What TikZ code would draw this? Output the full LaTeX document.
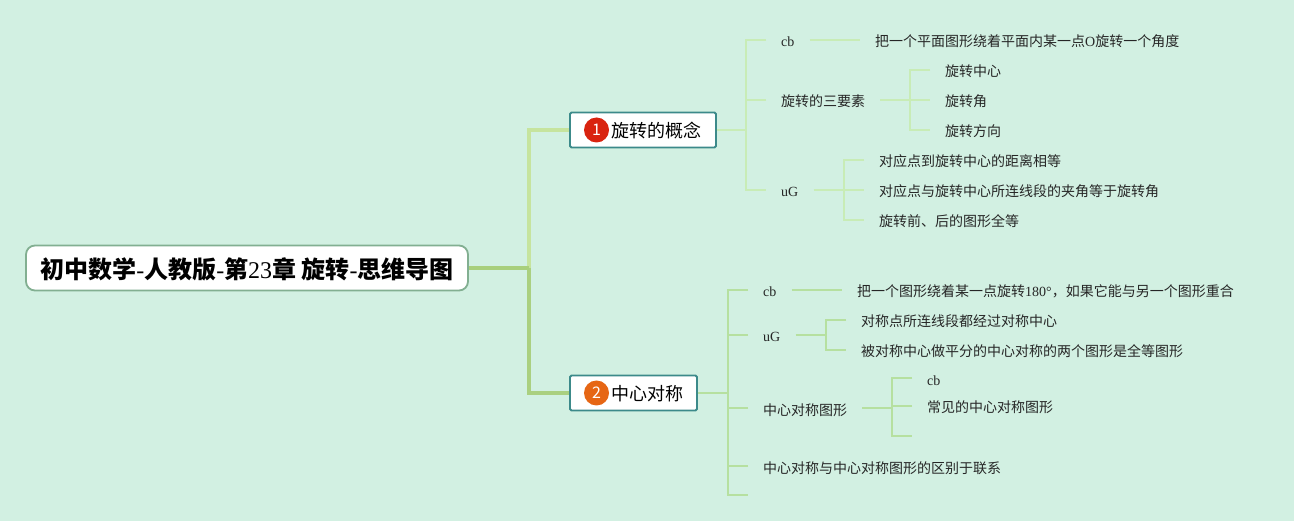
\documentclass[tikz,border=0pt]{standalone}
\usepackage{fontspec}
\usepackage{tikz}
\usetikzlibrary{calc}
\setmainfont{Liberation Serif}
\newfontfamily\cjk{Noto Sans CJK SC}
\definecolor{mapbg}{RGB}{210,240,226}
\definecolor{rootedge}{RGB}{130,175,145}
\definecolor{topicedge}{RGB}{60,138,138}
\definecolor{stemroot}{RGB}{168,207,124}
\definecolor{stemupper}{RGB}{198,228,158}
\definecolor{stemlower}{RGB}{170,208,128}
\definecolor{twigupper}{RGB}{200,236,182}
\definecolor{twiglower}{RGB}{182,224,160}
\definecolor{badgered}{RGB}{217,35,15}
\definecolor{badgeorange}{RGB}{230,102,20}
\tikzset{
  rootbox/.style={draw=rootedge, line width=1.8pt, fill=white, rounded corners=9pt, minimum width=442pt, minimum height=45pt, inner sep=0pt, text height=23pt, text depth=1pt, font=\cjk\bfseries\fontsize{24}{24}\selectfont},
  topicbox/.style={draw=topicedge, line width=1.8pt, fill=white, rounded corners=1.5pt, minimum height=35pt, inner sep=0pt},
  topiclabel/.style={anchor=west, inner sep=0pt, font=\cjk\fontsize{18}{18}\selectfont},
  badge/.style={circle, minimum size=25pt, inner sep=0pt, text=white, font=\cjk\fontsize{16}{16}\selectfont},
  leaf/.style={anchor=west, inner xsep=15pt, inner ysep=0pt, text=black!85, text height=15pt, text depth=1pt, font=\cjk\fontsize{14}{14}\selectfont},
  twig/.style={line width=1.5pt},
}
\newcommand{\lat}[1]{{\rmfamily\mdseries #1}}
\begin{document}
\begin{tikzpicture}[x=1pt,y=-1pt]
        \fill[mapbg] (0,0) rectangle (1294,521);
        \useasboundingbox (0,0) rectangle (1294,521);
        % central topic
        \node[rootbox] (root) at (247,268) {初中数学\lat{-}人教版\lat{-}第\lat{23}章 旋转\lat{-}思维导图};
        \node[topicbox, minimum width=146pt] (topica) at (643,130) {};
        \node[topicbox, minimum width=127pt] (topicb) at (633.5,393) {};
        \node[badge, fill=badgered] (badgea) at (596.5,130) {1};
        \node[badge, fill=badgeorange] (badgeb) at (596.5,393) {2};
        \node[topiclabel] (labela) at (611,130.5) {旋转的概念};
        \node[topiclabel] (labelb) at (611,393.5) {中心对称};
        % first branch
        \node[leaf] (cba) at (766,40) {\lat{cb}};
        \node[leaf] (defa) at (860,40) {把一个平面图形绕着平面内某一点\lat{O}旋转一个角度};
        \node[leaf] (three) at (766,100) {旋转的三要素};
        \node[leaf] (centre) at (930,70) {旋转中心};
        \node[leaf] (angle) at (930,100) {旋转角};
        \node[leaf] (direction) at (930,130) {旋转方向};
        \node[leaf] (uga) at (766,190) {\lat{uG}};
        \node[leaf] (propa) at (864,160) {对应点到旋转中心的距离相等};
        \node[leaf] (propb) at (864,190) {对应点与旋转中心所连线段的夹角等于旋转角};
        \node[leaf] (propc) at (864,220) {旋转前、后的图形全等};
        % second branch
        \node[leaf] (cbb) at (748,290) {\lat{cb}};
        \node[leaf] (defb) at (842,290) {把一个图形绕着某一点旋转\lat{180°}，如果它能与另一个图形重合};
        \node[leaf] (ugb) at (748,335) {\lat{uG}};
        \node[leaf] (propd) at (846,320) {对称点所连线段都经过对称中心};
        \node[leaf] (prope) at (846,350) {被对称中心做平分的中心对称的两个图形是全等图形};
        \node[leaf] (figure) at (748,408) {中心对称图形};
        \node[leaf] (cbc) at (912,378) {\lat{cb}};
        \node[leaf] (common) at (912,406) {常见的中心对称图形};
        \coordinate (emptya) at (912,436);
        \node[leaf] (differ) at (748,466) {中心对称与中心对称图形的区别于联系};
        \coordinate (emptyb) at (748,495);
        % joints
        \coordinate (spine) at (529,268);
        \coordinate (jointa) at (746,130);
        \coordinate (jointb) at (910,100);
        \coordinate (jointc) at (844,190);
        \coordinate (jointd) at (728,393);
        \coordinate (jointe) at (826,335);
        \coordinate (jointf) at (892,408);
        % connectors
        \draw[stemupper, line width=3.5pt] (topica.west) -- (spine |- topica.west) -- (spine);
        \draw[stemlower, line width=3.5pt] (topicb.west) -- (spine |- topicb.west) -- (spine);
        \draw[stemroot, line width=3.5pt] (root.east) -- (spine);
        \draw[twigupper, twig] (topica.east) -- (jointa);
        \draw[twigupper, twig] (cba.west) -- (jointa |- cba.west) -- (jointa |- uga.west) -- (uga.west);
        \draw[twigupper, twig] (three.west) -- (jointa |- three.west);
        \draw[twigupper, line width=2pt] (cba.east) -- (defa.west);
        \draw[twigupper, line width=2pt] (three.east) -- (angle.west);
        \draw[twigupper, twig] (centre.west) -- (jointb |- centre.west) -- (jointb |- direction.west) -- (direction.west);
        \draw[twigupper, line width=2pt] (uga.east) -- (propb.west);
        \draw[twigupper, twig] (propa.west) -- (jointc |- propa.west) -- (jointc |- propc.west) -- (propc.west);
        \draw[twiglower, line width=2pt] (topicb.east) -- (jointd);
        \draw[twiglower, twig] (cbb.west) -- (jointd |- cbb.west) -- (jointd |- emptyb) -- (emptyb);
        \draw[twiglower, twig] (ugb.west) -- (jointd |- ugb.west);
        \draw[twiglower, twig] (figure.west) -- (jointd |- figure.west);
        \draw[twiglower, twig] (differ.west) -- (jointd |- differ.west);
        \draw[twiglower, line width=2pt] (cbb.east) -- (defb.west);
        \draw[twiglower, line width=2pt] (ugb.east) -- (jointe);
        \draw[twiglower, twig] (propd.west) -- (jointe |- propd.west) -- (jointe |- prope.west) -- (prope.west);
        \draw[twiglower, line width=2pt] (figure.east) -- (jointf);
        \draw[twiglower, twig] (cbc.west) -- (jointf |- cbc.west) -- (jointf |- emptya) -- (emptya);
        \draw[twiglower, twig] (common.west) -- (jointf |- common.west);
    \end{tikzpicture}
\end{document}
